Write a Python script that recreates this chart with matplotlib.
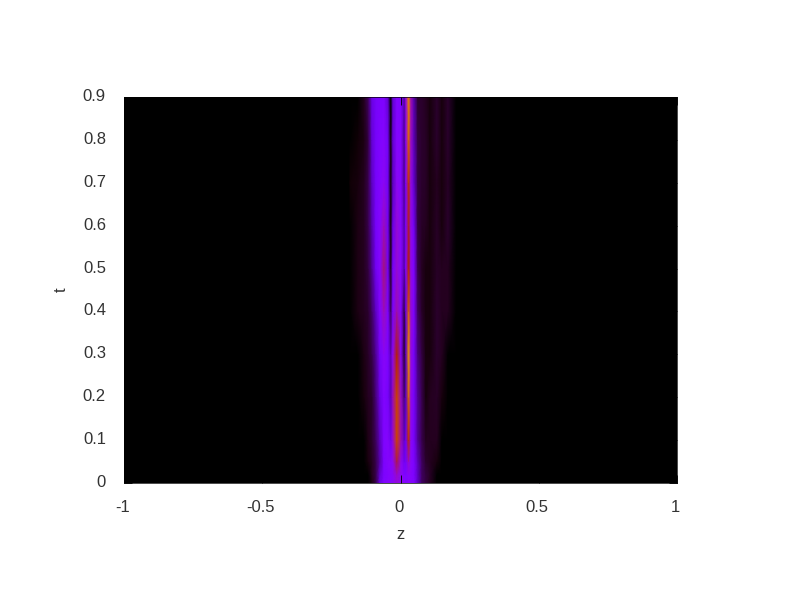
import numpy as np
import matplotlib
matplotlib.use("Agg")
import matplotlib.pyplot as plt
from matplotlib.colors import LinearSegmentedColormap
from matplotlib.transforms import ScaledTranslation

# gnuplot pm3d default palette (rgbformulae 7,5,15)
levels = np.linspace(0, 1, 256)
palette = np.column_stack([np.sqrt(levels), levels**3,
                           np.clip(np.sin(2 * np.pi * levels), 0, 1)])
cmap = LinearSegmentedColormap.from_list("pm3d", palette)

# Values
z_vals = [-0.183, -0.154, -0.132, -0.117, -0.103, -0.089, -0.074, -0.06, -0.045,
          -0.036, -0.027, -0.013, 0.002, 0.014, 0.02, 0.029, 0.038, 0.049,
          0.063, 0.078, 0.092, 0.107, 0.132, 0.15, 0.172, 0.2]
t_vals = [0, 0.02, 0.05, 0.1, 0.2, 0.3, 0.4, 0.5, 0.6, 0.7, 0.8, 0.9]

row_000 = [0, 0, 0, 0, .015, .05, .18, .25, .27, .28, .29, .33, .30, .27, .26, .27, .27, .25, .14, .06, .04, .02, 0, 0, 0, 0]
row_002 = [0, 0, 0, 0, .02, .05, .16, .24, .26, .27, .29, .36, .30, .26, .25, .28, .27, .24, .14, .06, .04, .025, 0, 0, 0, 0]
row_005 = [0, 0, 0, .01, .02, .05, .12, .24, .27, .27, .31, .45, .31, .20, .22, .36, .28, .24, .13, .06, .03, .02, .01, 0, 0, 0]
row_010 = [0, 0, 0, .015, .03, .06, .14, .25, .27, .20, .35, .64, .38, .15, .20, .54, .30, .22, .10, .05, .02, .02, .02, 0, 0, 0]
row_020 = [0, 0, .01, .02, .03, .08, .18, .26, .22, .14, .38, .64, .36, .08, .14, .74, .32, .22, .10, .05, .01, .02, .025, .01, 0, 0]
row_030 = [0, 0, .015, .025, .05, .10, .22, .29, .24, .14, .31, .50, .27, .03, .14, .84, .33, .22, .08, .04, .01, .01, .03, .02, 0, 0]
row_040 = [0, .015, .02, .03, .07, .14, .26, .37, .24, .06, .24, .38, .25, .04, .18, .72, .34, .24, .06, .025, .01, .01, .03, .02, .02, 0]
row_050 = [0, .015, .02, .04, .10, .20, .27, .42, .20, .02, .22, .34, .27, .12, .27, .50, .32, .24, .05, .02, .01, .01, .025, .02, .02, 0]
row_060 = [0, .012, .02, .05, .12, .22, .27, .37, .20, .01, .18, .34, .27, .12, .25, .47, .32, .20, .04, .025, .02, .01, .025, .01, .03, 0]
row_070 = [.005, .01, .02, .05, .14, .22, .26, .30, .20, .01, .14, .30, .26, .10, .26, .57, .33, .15, .04, .03, .025, .01, .02, .01, .025, 0]
row_080 = [0, .005, .015, .04, .16, .22, .25, .27, .20, .01, .16, .27, .26, .10, .30, .74, .36, .13, .04, .03, .025, .01, .03, .01, .03, 0]
row_090 = [0, 0, .02, .06, .18, .22, .24, .25, .15, 0, .16, .26, .24, .12, .33, .82, .38, .12, .03, .03, .02, .01, .03, .01, .03, 0]

density = np.array([row_000, row_002, row_005, row_010, row_020, row_030,
                    row_040, row_050, row_060, row_070, row_080, row_090])

x_ticks = [-1, -0.5, 0, 0.5, 1]
x_labels = ["-1", "-0.5", "0", "0.5", "1"]
y_ticks = [0, 0.1, 0.2, 0.3, 0.4, 0.5, 0.6, 0.7, 0.8, 0.9]
y_labels = ["0", "0.1", "0.2", "0.3", "0.4", "0.5", "0.6", "0.7", "0.8", "0.9"]

plt.rcParams["font.family"] = ["Liberation Sans", "DejaVu Sans"]

fig = plt.figure(figsize=(8, 6), dpi=100)
ax = fig.add_axes([124 / 800, 117 / 600, 553 / 800, 386 / 600])
ax.set_facecolor("black")

ax.pcolormesh(z_vals, t_vals, density, shading="gouraud", cmap=cmap,
              vmin=0, vmax=1, zorder=1)

ax.set_xlim(-1, 1)
ax.set_ylim(0, 0.9)
ax.set_xticks(x_ticks)
ax.set_xticklabels(x_labels)
ax.set_yticks(y_ticks)
ax.set_yticklabels(y_labels)
ax.tick_params(direction="in", length=5.8, width=0.6, color="black", labelsize=12,
               labelcolor="#333333", top=True, right=True, zorder=5)
ax.tick_params(axis="x", pad=12)
ax.tick_params(axis="y", pad=13)
ax.set_axisbelow(False)
for spine in ax.spines.values():
    spine.set_linewidth(0.5)
ax.set_xlabel("z", fontsize=12, color="#333333", labelpad=9)
ax.set_ylabel("t", fontsize=12, color="#333333", labelpad=10)

# nudge tick labels to sit where gnuplot puts them
for label in ax.get_yticklabels():
    label.set_transform(label.get_transform() + ScaledTranslation(0, 2 / 100, fig.dpi_scale_trans))
for label in ax.get_xticklabels():
    label.set_transform(label.get_transform() + ScaledTranslation(-1.5 / 100, 0, fig.dpi_scale_trans))

fig.savefig("out.png", dpi=100)
